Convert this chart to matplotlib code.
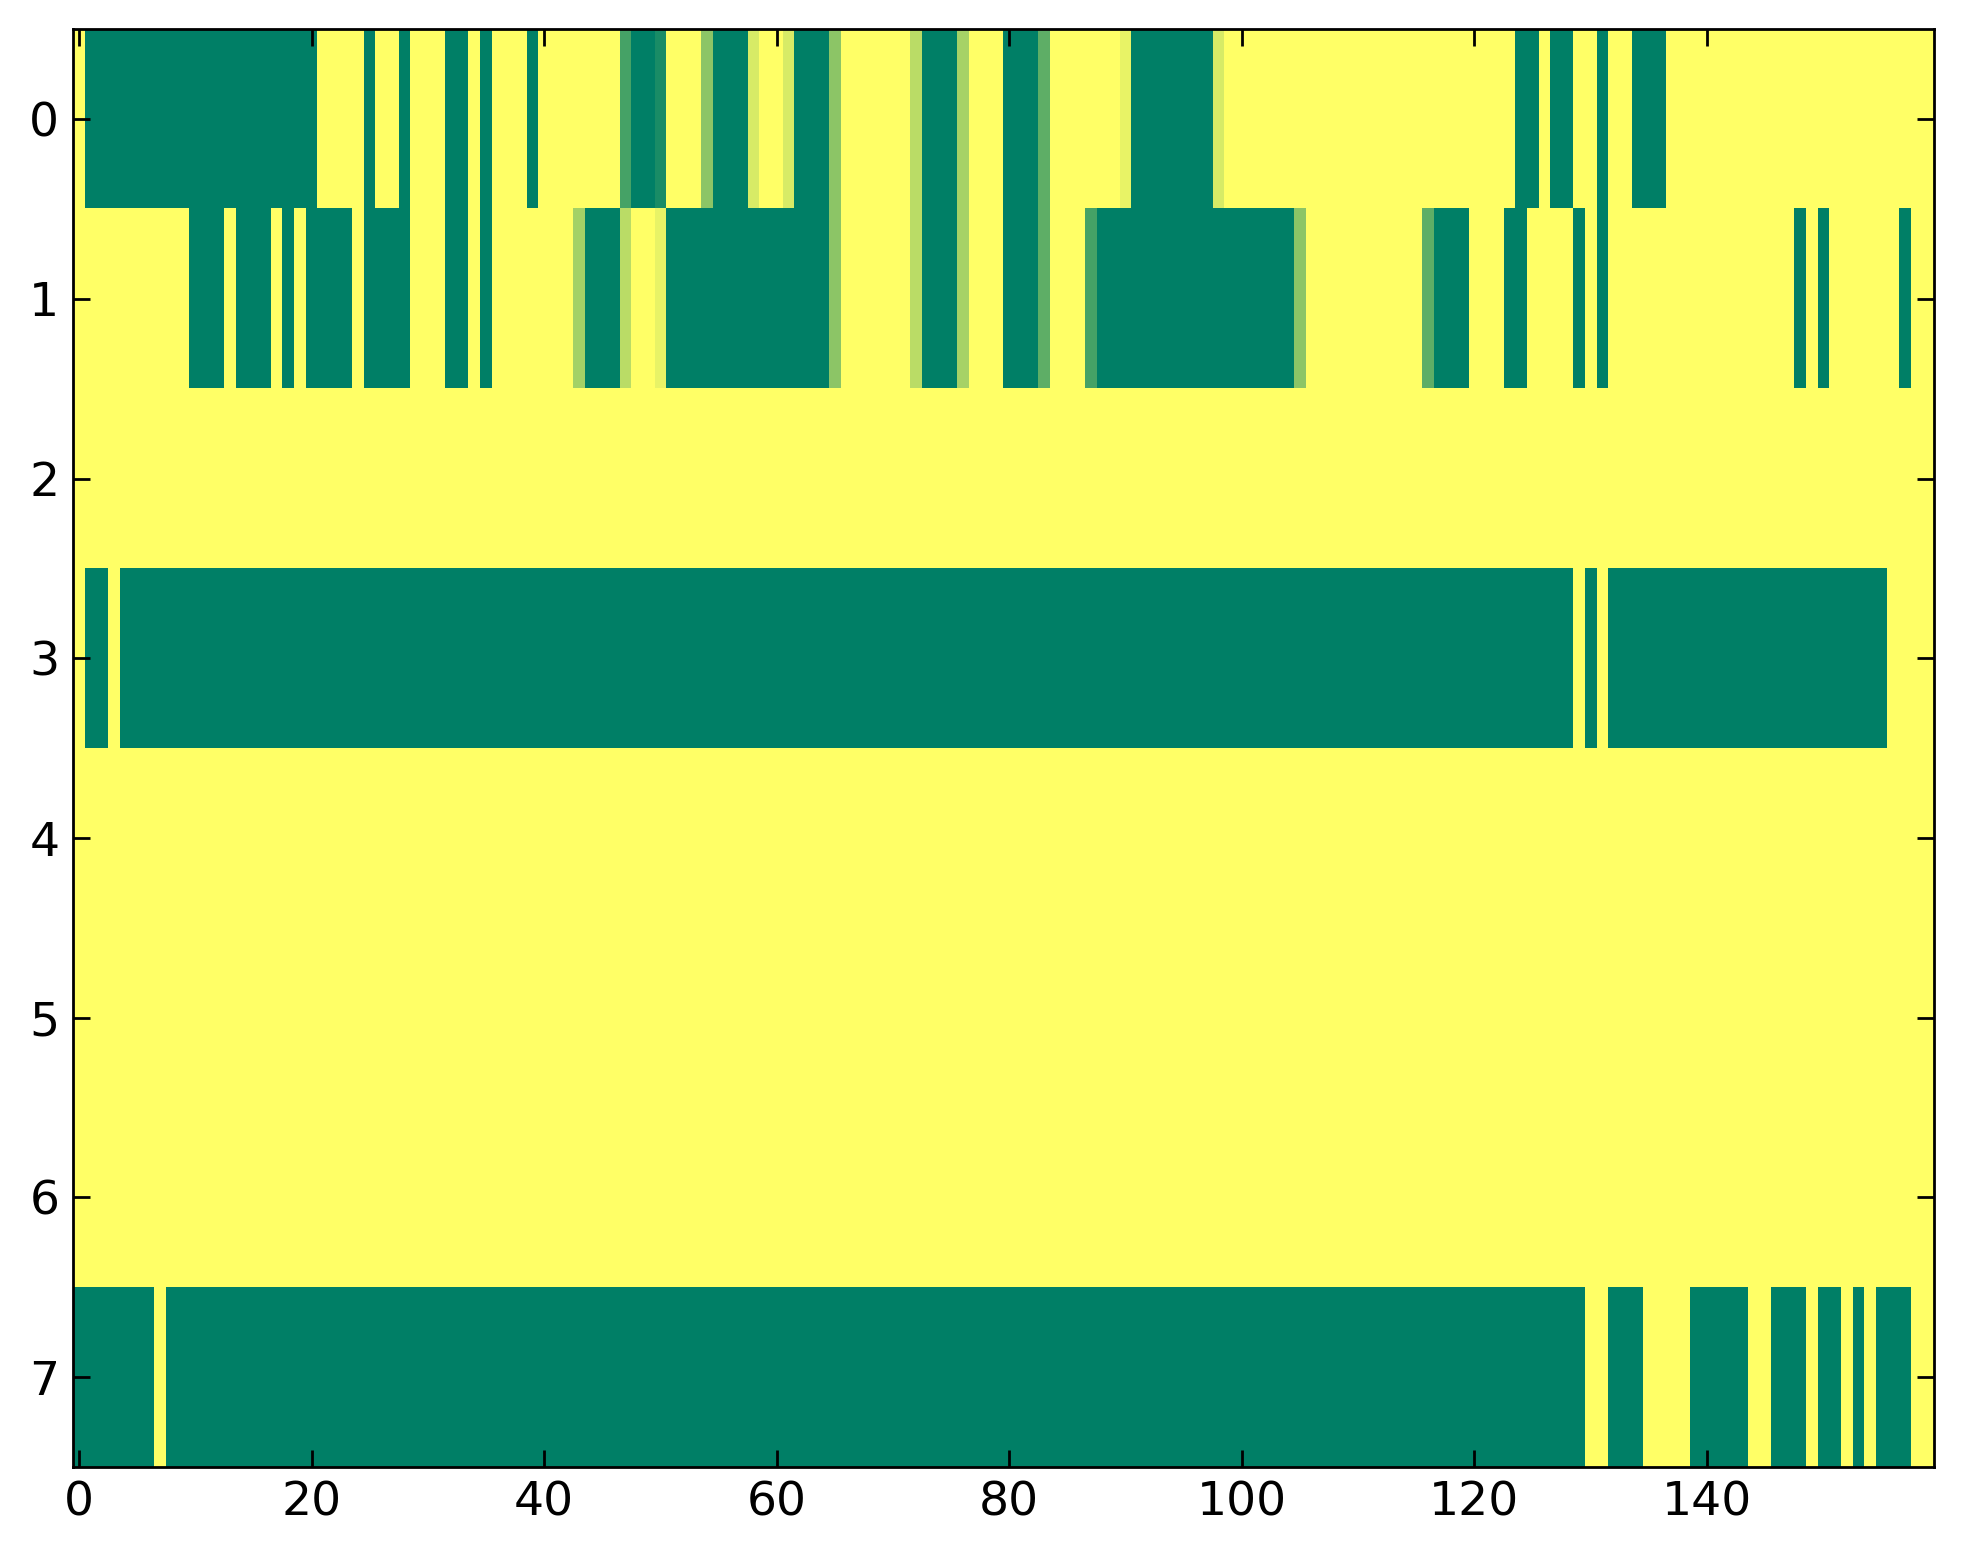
"""
Heatmap of 8 binary-ish channels over 160 steps (summer colormap, classic look)
"""
import numpy as np
import matplotlib
matplotlib.use('Agg')
import matplotlib.pyplot as plt

# Each row is stored as (value, run length) pairs
row0_runs = [(1, 1), (0, 20), (1, 4), (0, 1), (1, 2), (0, 1), (1, 3), (0, 2), (1, 1), (0, 1),
             (1, 3), (0, 1), (1, 7), (0.27, 1), (0, 2), (0.1, 1), (1, 3), (0.55, 1), (0, 3),
             (0.84, 1), (1, 2), (0.84, 1), (0, 3), (0.55, 1), (1, 6), (0.73, 1), (0, 3),
             (0.65, 1), (1, 3), (0, 3), (0.37, 1), (1, 6), (0.91, 1), (0, 7), (0.84, 1),
             (1, 25), (0, 2), (1, 1), (0, 2), (1, 2), (0, 1), (1, 2), (0, 3), (1, 23)]
row1_runs = [(1, 10), (0, 3), (1, 1), (0, 3), (1, 1), (0, 1), (1, 1), (0, 4), (1, 1), (0, 4),
             (1, 3), (0, 2), (1, 1), (0, 1), (1, 7), (0.64, 1), (0, 3), (0.73, 1), (1, 2),
             (0.91, 1), (0, 14), (0.55, 1), (1, 6), (0.73, 1), (0, 3), (0.65, 1), (1, 3),
             (0, 3), (0.37, 1), (1, 3), (0.27, 1), (0, 17), (0.55, 1), (1, 10), (0.37, 1),
             (0, 3), (1, 3), (0, 2), (1, 4), (0, 1), (1, 1), (0, 1), (1, 16), (0, 1), (1, 1),
             (0, 1), (1, 6), (0, 1), (1, 2)]
row2_runs = [(1, 160)]
row3_runs = [(1, 1), (0, 2), (1, 1), (0, 125), (1, 1), (0, 1), (1, 1), (0, 24), (1, 4)]
row4_runs = [(1, 160)]
row5_runs = [(1, 160)]
row6_runs = [(1, 160)]
row7_runs = [(0, 7), (1, 1), (0, 122), (1, 2), (0, 3), (1, 4), (0, 5), (1, 2), (0, 3), (1, 1),
             (0, 2), (1, 1), (0, 1), (1, 1), (0, 3), (1, 2)]

x_ticks = [0, 20, 40, 60, 80, 100, 120, 140]
y_ticks = [0, 1, 2, 3, 4, 5, 6, 7]


def expand(runs):
    """Turn (value, count) pairs into a flat row"""
    vals = [v for v, _ in runs]
    counts = [n for _, n in runs]
    return np.repeat(vals, counts)


rows = [row0_runs, row1_runs, row2_runs, row3_runs, row4_runs, row5_runs, row6_runs, row7_runs]
matrix = np.vstack([expand(r) for r in rows])

plt.rcParams['font.family'] = 'DejaVu Sans'

dpi = 200
fig = plt.figure(figsize=(1963 / dpi, 1564 / dpi), dpi=dpi)
ax = fig.add_axes([0.0373, 0.0620, 0.9478, 0.9192])

ax.imshow(matrix, cmap='summer', aspect='auto', interpolation='nearest', vmin=0, vmax=1)

ax.set_xticks(x_ticks)
ax.set_yticks(y_ticks)
ax.tick_params(direction='in', top=True, right=True, length=6, width=1, pad=5, labelsize=17)
for spine in ax.spines.values():
    spine.set_linewidth(1.0)

fig.savefig('out.png', dpi=dpi, facecolor='white')
plt.close()
